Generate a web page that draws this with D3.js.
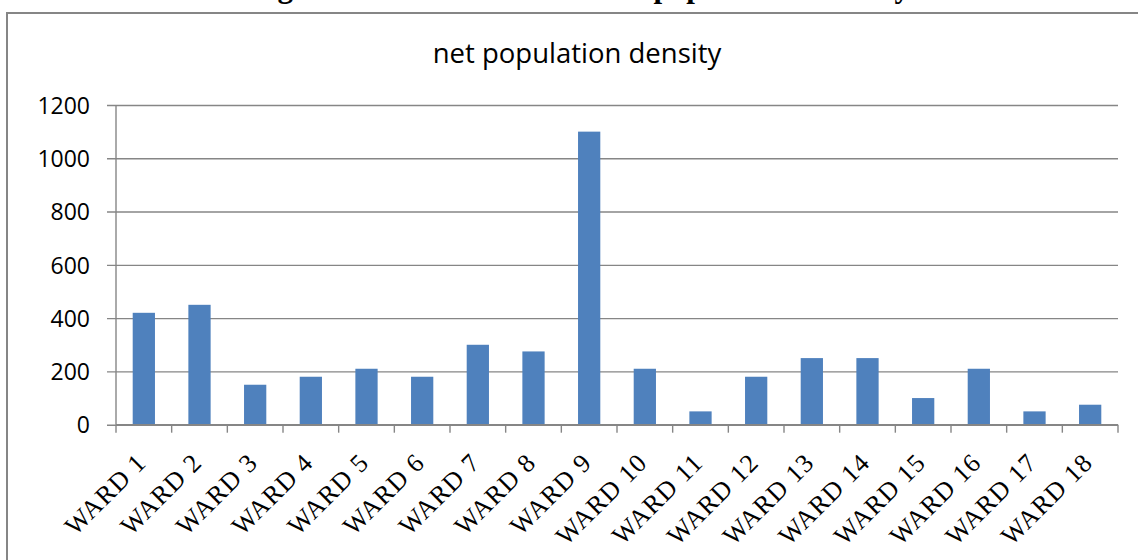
<!DOCTYPE html>
<html>
<head>
<meta charset="utf-8">
<script src="https://cdn.jsdelivr.net/npm/d3@7"></script>
<style>
  html, body { margin: 0; padding: 0; background: #ffffff; overflow: hidden; }
  svg { display: block; }
</style>
</head>
<body>
<div id="chart"></div>
<script>
// Ward-wise net population density (persons per unit area)
const categories = ["WARD 1", "WARD 2", "WARD 3", "WARD 4", "WARD 5", "WARD 6",
  "WARD 7", "WARD 8", "WARD 9", "WARD 10", "WARD 11", "WARD 12",
  "WARD 13", "WARD 14", "WARD 15", "WARD 16", "WARD 17", "WARD 18"];
const density = [420, 450, 150, 180, 210, 180, 300, 275, 1100, 210, 50, 180,
  250, 250, 100, 210, 50, 75];
const yTicks = [0, 200, 400, 600, 800, 1000, 1200];
const captionText = "Figure 4.2: Ward wise net population density";
const chartTitle = "net population density";

const W = 1138, H = 560;
const gray = "#868686";
const barColor = "#4F81BD";

const svg = d3.select("#chart").append("svg")
  .attr("width", W).attr("height", H);

// document caption sitting above the chart frame (justified line, mostly cut off by the page edge)
svg.append("text")
  .attr("x", 250).attr("y", -3.5)
  .attr("font-family", "'Liberation Serif', 'Times New Roman', serif")
  .attr("font-weight", "bold")
  .attr("font-size", 31)
  .attr("word-spacing", 11)
  .attr("fill", "#000")
  .text(captionText);

// chart frame
svg.append("rect")
  .attr("x", 7).attr("y", 13)
  .attr("width", 1140).attr("height", 600)
  .attr("fill", "#fff")
  .attr("stroke", gray).attr("stroke-width", 2);

// chart title
svg.append("text")
  .attr("x", 577).attr("y", 63)
  .attr("text-anchor", "middle")
  .attr("font-family", "'Open Sans', sans-serif")
  .attr("font-size", 27.5)
  .attr("fill", "#000")
  .text(chartTitle);

const plot = { left: 116, right: 1118, top: 105, bottom: 424.7 };

const x = d3.scaleBand()
  .domain(categories)
  .range([plot.left, plot.right])
  .paddingInner(0.6)
  .paddingOuter(0.3);

const y = d3.scaleLinear()
  .domain([0, 1200])
  .range([plot.bottom, plot.top]);

// horizontal gridlines with outside tick marks
const yAxis = d3.axisLeft(y)
  .tickValues(yTicks)
  .tickSize(-(plot.right - plot.left))
  .tickPadding(26)
  .tickFormat(d3.format("d"));

const gy = svg.append("g")
  .attr("transform", `translate(${plot.left},0)`)
  .call(yAxis);
gy.select(".domain").remove();
gy.selectAll(".tick line")
  .attr("x1", -9)
  .attr("stroke", gray).attr("stroke-width", 1.4);
gy.selectAll(".tick text")
  .attr("font-family", "'Open Sans', sans-serif")
  .attr("font-size", 23)
  .attr("fill", "#000")
  .attr("dy", "0.36em");

// vertical axis line
svg.append("line")
  .attr("x1", plot.left).attr("x2", plot.left)
  .attr("y1", plot.top).attr("y2", plot.bottom)
  .attr("stroke", gray).attr("stroke-width", 1.4);

// bars
svg.append("g").selectAll("rect")
  .data(density)
  .join("rect")
  .attr("x", (d, i) => x(categories[i]))
  .attr("width", x.bandwidth())
  .attr("y", d => y(d))
  .attr("height", d => y(0) - y(d))
  .attr("fill", barColor);

// category axis: line and tick marks on the band boundaries
const boundaries = categories.map(c => x(c) - x.step() * 0.3).concat([plot.right]);
svg.append("line")
  .attr("x1", plot.left).attr("x2", plot.right)
  .attr("y1", plot.bottom).attr("y2", plot.bottom)
  .attr("stroke", gray).attr("stroke-width", 1.4);
svg.append("g").selectAll("line")
  .data(boundaries)
  .join("line")
  .attr("x1", d => d).attr("x2", d => d)
  .attr("y1", plot.bottom).attr("y2", plot.bottom + 8)
  .attr("stroke", gray).attr("stroke-width", 1.4);

// rotated category labels
svg.append("g").selectAll("text")
  .data(categories)
  .join("text")
  .attr("transform", c => `translate(${x(c) + x.bandwidth() / 2 + 4},464) rotate(-45)`)
  .attr("text-anchor", "end")
  .attr("font-family", "'Liberation Serif', 'Times New Roman', serif")
  .attr("font-size", 26)
  .attr("letter-spacing", 1.1)
  .attr("fill", "#000")
  .text(c => c);
</script>
</body>
</html>
